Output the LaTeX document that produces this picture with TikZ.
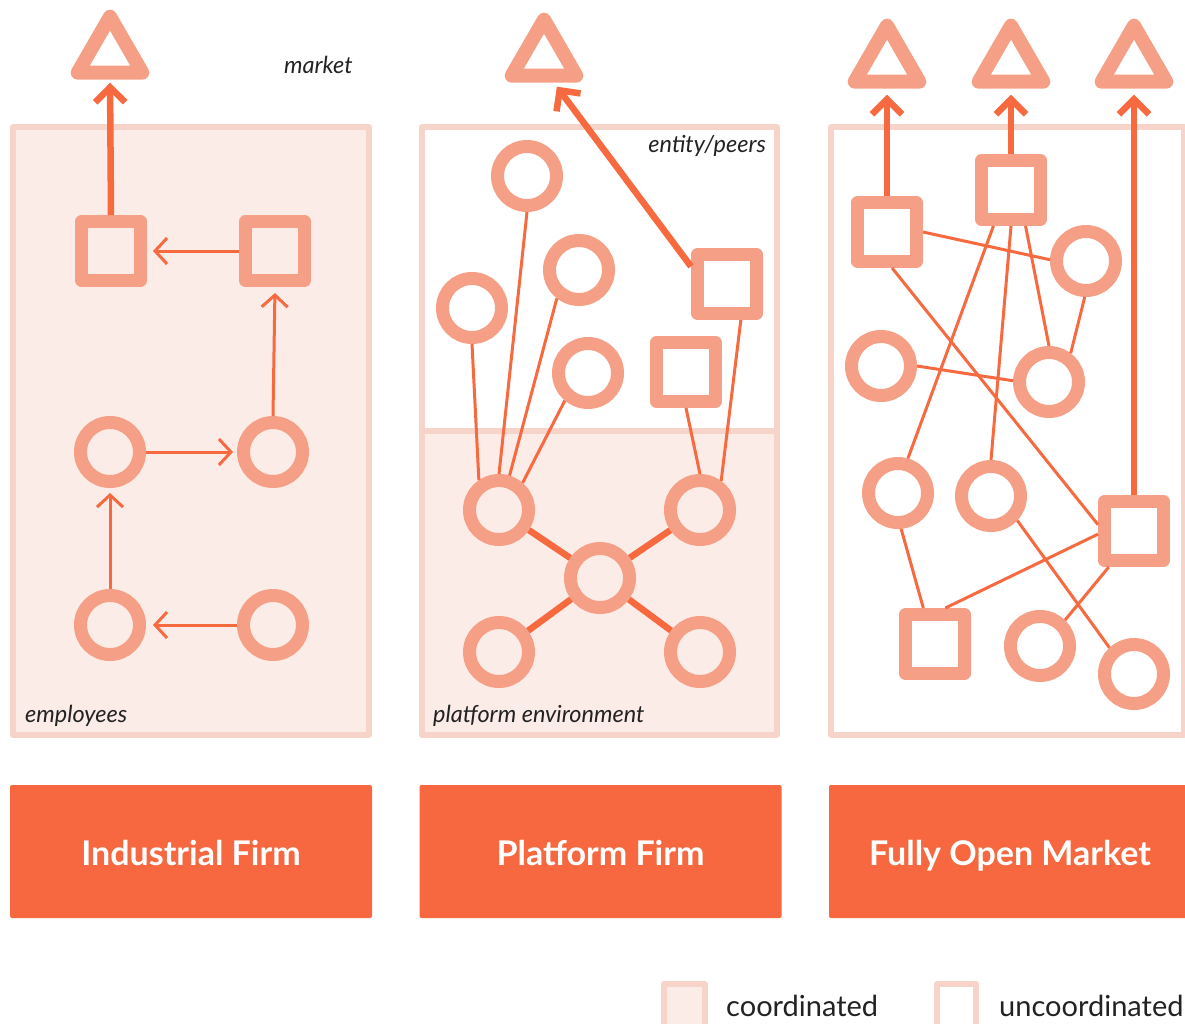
\documentclass[tikz,border=0pt]{standalone}
\usepackage{fontspec}
\setmainfont{Lato}
\usetikzlibrary{arrows.meta,shapes.geometric,calc}
\definecolor{shapec}{HTML}{F49F86}
\definecolor{conn}{HTML}{F76A3F}
\definecolor{panelborder}{HTML}{F6D4CA}
\definecolor{coordfill}{HTML}{FBECE8}
\definecolor{boxfill}{HTML}{F76840}
\definecolor{txt}{HTML}{222222}
\tikzset{
  circ/.style={circle, draw=shapec, line width=13pt, minimum size=59pt, inner sep=0pt},
  sq/.style={rectangle, draw=shapec, line width=13pt, minimum size=59pt, inner sep=0pt, line join=round},
  tri/.style={regular polygon, regular polygon sides=3, draw=shapec, line width=14pt, minimum size=74.7pt, inner sep=0pt, line join=round},
  conline/.style={draw=conn, line width=3pt},
  conthick/.style={draw=conn, line width=6.5pt},
  thinarrow/.style={conline, -{Straight Barb[length=12pt,width=26pt]}},
  thickarrow/.style={draw=conn, line width=6.5pt, -{Straight Barb[length=15pt,width=30pt]}},
  panel/.style={draw=panelborder, line width=6pt, line join=round},
  bigbox/.style={fill=boxfill, rounded corners=2pt, inner sep=0pt, minimum width=362pt, minimum height=133pt},
  boxtext/.style={text=white, font=\fontsize{34}{40}\selectfont\bfseries, inner sep=0pt, anchor=base},
  lbl/.style={font=\fontsize{23.5}{28}\selectfont\itshape, text=txt, inner sep=0pt},
  legtext/.style={font=\fontsize{29}{34}\selectfont, text=txt, inner sep=0pt, anchor=base west}
}
\begin{document}
\begin{tikzpicture}[x=1pt,y=-1pt]
\useasboundingbox (0,0) rectangle (1185,1023);
\begin{scope}
\clip (0,0) rectangle (1185,1023);
% panels
\draw[panel, fill=coordfill] (13,127) rectangle (369,735);
\fill[coordfill] (422,431) rectangle (777,735);
\draw[panel] (422,127) rectangle (777,735);
\draw[panel] (422,431) -- (777,431);
\draw[panel] (831,127) rectangle (1184,735);

% labels
\node[lbl, anchor=base west] (lm) at (284,73) {market};
\node[lbl, anchor=base east] (lep) at (766,152) {entity/peers};
\node[lbl, anchor=base west] (lemp) at (25,722) {employees};
\node[lbl, anchor=base west] (lpe) at (433,722) {platform environment};

% ---------- Industrial firm ----------
\node[tri] (t1) at (110,54) {};
\node[sq] (s1) at (111,251) {};
\node[sq] (s2) at (275,251) {};
\node[circ] (c1) at (110,452) {};
\node[circ] (c2) at (273,452) {};
\node[circ] (c3) at (110,625) {};
\node[circ] (c4) at (273,625) {};
\draw[thickarrow, shorten >=3pt] (s1.north) -- (t1.south);
\draw[thinarrow, shorten >=6pt] (s2.west) -- (s1.east);
\draw[thinarrow, shorten >=6pt] (c2.north) -- (s2.south);
\draw[thinarrow, shorten >=4pt] (c1.east) -- (c2.west);
\draw[thinarrow, shorten >=5pt] (c3.north) -- (c1.south);
\draw[thinarrow, shorten >=7pt] (c4.west) -- (c3.east);

% ---------- Platform firm ----------
\node[tri] (t2) at (544,57) {};
\node[circ] (mA) at (527,176) {};
\node[circ] (mB) at (579,270) {};
\node[circ] (mC) at (472,308) {};
\node[circ] (mD) at (588,373) {};
\node[sq] (mE) at (727,284) {};
\node[sq] (mF) at (686,372) {};
\node[circ] (mG) at (499,510) {};
\node[circ] (mH) at (700,510) {};
\node[circ] (mI) at (600,578) {};
\node[circ] (mJ) at (499,652) {};
\node[circ] (mK) at (700,652) {};
\draw[conline] (mC.south) -- (mG.124);
\draw[conline] (mA.south) -- (mG.north);
\draw[conline] (mB.232) -- (mG.73);
\draw[conline] (mD.230) -- (mG.49);
\draw[conline] (mF.south) -- (mH.north);
\draw[conline] (mE.-69) -- (mH.54);
\draw[conthick] (mI) -- (mG);
\draw[conthick] (mI) -- (mH);
\draw[conthick] (mI) -- (mJ);
\draw[conthick] (mI) -- (mK);
\draw[thickarrow, shorten >=5pt] (mE.154) -- (t2.-69);

% ---------- Fully open market ----------
\node[tri] (t3) at (887,63) {};
\node[tri] (t4) at (1011,63) {};
\node[tri] (t5) at (1134,63) {};
\node[sq] (rP) at (887,232) {};
\node[sq] (rQ) at (1011,190) {};
\node[circ] (rR) at (1086,261) {};
\node[circ] (rS) at (881,366) {};
\node[circ] (rT) at (1049,382) {};
\node[circ] (rU) at (898,493) {};
\node[circ] (rV) at (991,496) {};
\node[sq] (rW) at (1134,531) {};
\node[sq] (rX) at (935,644) {};
\node[circ] (rY) at (1040,646) {};
\node[circ] (rZ) at (1134,674) {};
\draw[thickarrow, shorten >=6pt] (rP.north) -- (t3.south);
\draw[thickarrow, shorten >=6pt] (rQ.north) -- (t4.south);
\draw[thickarrow, shorten >=6pt] (rW.north) -- (t5.south);
\draw[conline] (rP.east) -- (rR.178);
\draw[conline] (rP.-82) -- (rW.170);
\draw[conline] (rQ.-116) -- (rU.74);
\draw[conline] (rQ.south) -- (rV.north);
\draw[conline] (rQ.-68) -- (rT.north);
\draw[conline] (rR.-92) -- (rT.53);
\draw[conline] (rS.east) -- (rT.178);
\draw[conline] (rU.-85) -- (rX.108);
\draw[conline] (rX.74) -- (rW.185);
\draw[conline] (rV.-43) -- (rZ.133);
\draw[conline] (rY.46) -- (rW.235);

% ---------- bottom boxes ----------
\node[bigbox] (b1) at (191,851.5) {};
\node[bigbox] (b2) at (600.5,851.5) {};
\node[bigbox] (b3) at (1010,851.5) {};
\node[boxtext] (b1t) at (191,865) {Industrial Firm};
\node[boxtext] (b2t) at (600.5,865) {Platform Firm};
\node[boxtext] (b3t) at (1010,865) {Fully Open Market};

% ---------- legend ----------
\draw[panel, fill=coordfill] (664,984) rectangle (705,1030);
\draw[panel] (937,984) rectangle (976,1030);
\node[legtext] (lg1) at (726,1016) {coordinated};
\node[legtext] (lg2) at (999,1016) {uncoordinated};
\end{scope}
\end{tikzpicture}
\end{document}
